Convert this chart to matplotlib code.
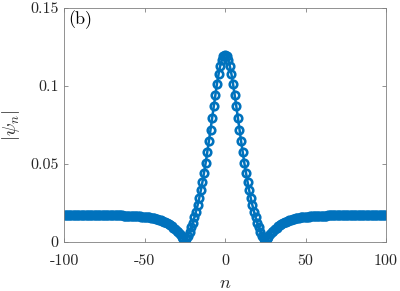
import numpy as np
import matplotlib
matplotlib.use("Agg")
from matplotlib import pyplot as plt

# |psi_n| for n = 0..100 (profile is symmetric in n)
psi_half = [
    0.1200, 0.1192, 0.1167, 0.1128, 0.1076, 0.1014, 0.0945, 0.0872, 0.0796, 0.0721,
    0.0647, 0.0576, 0.0508, 0.0445, 0.0386, 0.0332, 0.0282, 0.0237, 0.0196, 0.0159,
    0.0125, 0.0094, 0.0067, 0.0042, 0.0020, 0.0000, 0.0018, 0.0034, 0.0049, 0.0062,
    0.0073, 0.0084, 0.0093, 0.0101, 0.0109, 0.0116, 0.0122, 0.0127, 0.0132, 0.0136,
    0.0140, 0.0143, 0.0147, 0.0149, 0.0152, 0.0154, 0.0156, 0.0158, 0.0159, 0.0161,
    0.0162, 0.0163, 0.0164, 0.0165, 0.0166, 0.01665, 0.0167, 0.01675, 0.0168, 0.01685,
    0.0169, 0.01695, 0.0170, 0.01703, 0.01706, 0.01709, 0.01712, 0.01715, 0.01718, 0.0172,
    0.01722, 0.01724, 0.01725, 0.01726, 0.01727, 0.01728, 0.01729, 0.0173, 0.0173, 0.0173,
    0.0173, 0.0173, 0.0173, 0.0173, 0.0173, 0.0173, 0.0173, 0.0173, 0.0173, 0.0173,
    0.0173, 0.0173, 0.0173, 0.0173, 0.0173, 0.0173, 0.0173, 0.0173, 0.0173, 0.0173,
    0.0173,
]
psi = psi_half[::-1] + psi_half[1:]
n = list(range(-100, 101))

xticks = [-100, -50, 0, 50, 100]
xticklabels = ["-100", "-50", "0", "50", "100"]
yticks = [0, 0.05, 0.1, 0.15]
yticklabels = ["0", "0.05", "0.1", "0.15"]

plt.rcParams['font.family'] = ['cmr10', 'DejaVu Serif']
plt.rcParams['mathtext.fontset'] = 'cm'
plt.rcParams['axes.unicode_minus'] = False

fig = plt.figure(figsize=(4.0, 2.91), dpi=100)
ax = fig.add_axes([0.16, 0.168, 0.805, 0.8045])

blue = '#0072BD'
ax.plot(n, psi, '-o', color=blue, lw=1.8, markersize=5.4,
        markerfacecolor='none', markeredgewidth=1.9)

ax.set_xlim(-100, 100)
ax.set_ylim(0, 0.15)
ax.set_xticks(xticks)
ax.set_xticklabels(xticklabels)
ax.set_yticks(yticks)
ax.set_yticklabels(yticklabels)

gray = '#262626'
for s in ax.spines.values():
    s.set_color('#808080')
    s.set_linewidth(0.6)
ax.tick_params(direction='in', length=3, width=0.6, color='#808080',
               labelsize=11.5, labelcolor=gray, top=True, right=True)
ax.tick_params(axis='x', pad=9)
ax.tick_params(axis='y', pad=4)

ax.set_xlabel(r'$n$', fontsize=13, color=gray, labelpad=5)
ax.set_ylabel(r'$|\psi_n|$', fontsize=13.5, color=gray, labelpad=6)
ax.text(0.012, 0.99, '(b)', transform=ax.transAxes, ha='left', va='top',
        fontsize=13, color='k')

fig.savefig('out.png', dpi=100)
